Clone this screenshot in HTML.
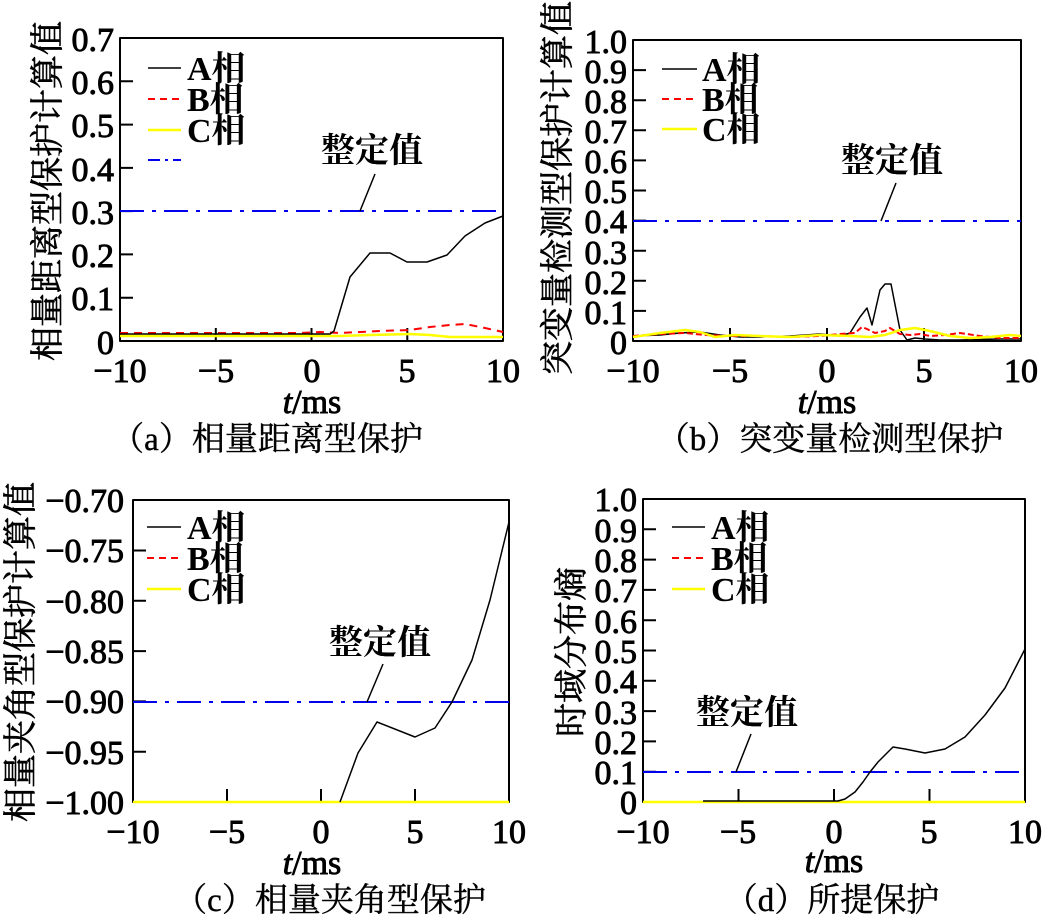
<!DOCTYPE html>
<html><head><meta charset="utf-8"><style>
html,body{margin:0;padding:0;background:#fff}
svg text{font-family:"Liberation Serif","Noto Serif CJK SC",serif;fill:#000}
.t{font-size:34px;stroke:#000;stroke-width:0.9px}
.c{font-family:"Liberation Serif","Noto Serif CJK SC",serif;font-size:33px;stroke:#000;stroke-width:0.4px}
.cj{font-family:"Liberation Serif","Noto Serif CJK SC",serif;font-size:34px;font-weight:bold}
.yl{font-family:"Liberation Serif","Noto Serif CJK SC",serif;font-size:34px;stroke:#000;stroke-width:0.6px}
</style></head><body>
<svg width="1043" height="919" viewBox="0 0 1043 919" xmlns="http://www.w3.org/2000/svg">
<g fill="none" stroke-linejoin="round">

<!-- ===== (a) ===== -->
<rect x="120" y="38" width="383" height="303" stroke="#000" stroke-width="2"/>
<path d="M120 297.7h13M120 254.4h13M120 211.1h13M120 167.9h13M120 124.6h13M120 81.3h13M215.8 341v-13M311.5 341v-13M407.3 341v-13" stroke="#000" stroke-width="2"/>
<line x1="120" y1="211" x2="503" y2="211" stroke="#0000ee" stroke-width="2" stroke-dasharray="24,8,4,8"/>
<polyline points="120,336 200,336 300,336 340,336 370,335 410,334 430,335 450,337 503,337" stroke="#ffff00" stroke-width="2.5"/>
<polyline points="120,333 200,333 300,333 320,332 340,333 380,331 410,330 430,327 450,325 465,324 485,328 503,332" stroke="#ff0000" stroke-width="2" stroke-dasharray="8,6"/>
<polyline points="120,334 330,334 334,331 350,277 370,253 390,253 407,262 427,262 447,255 465,236 485,223 503,216" stroke="#000" stroke-width="1.5"/>
<line x1="375" y1="174" x2="360" y2="211" stroke="#000" stroke-width="1.5"/>
<line x1="148" y1="68" x2="181" y2="68" stroke="#000" stroke-width="1.5"/>
<line x1="148" y1="99" x2="181" y2="99" stroke="#ff0000" stroke-width="2" stroke-dasharray="7,5"/>
<line x1="148" y1="130" x2="181" y2="130" stroke="#ffff00" stroke-width="2.5"/>
<line x1="148" y1="160" x2="181" y2="160" stroke="#0000ee" stroke-width="2" stroke-dasharray="12,5,3,5"/>

<!-- ===== (b) ===== -->
<rect x="633" y="40" width="388" height="301" stroke="#000" stroke-width="2"/>
<path d="M633 310.9h13M633 280.8h13M633 250.7h13M633 220.6h13M633 190.5h13M633 160.4h13M633 130.3h13M633 100.2h13M633 70.1h13M730 341v-13M827 341v-13M924 341v-13" stroke="#000" stroke-width="2"/>
<line x1="633" y1="221" x2="1021" y2="221" stroke="#0000ee" stroke-width="2" stroke-dasharray="24,8,4,8"/>
<polyline points="633,336 660,335 680,333 700,332 720,335 740,337 760,337 790,336 820,334 840,336 850,333 860,317 867,308 872,325 880,290 885,284 891,284 900,330 907,340 915,338 925,339 940,340 960,340 1000,339 1021,339" stroke="#000" stroke-width="1.5"/>
<polyline points="633,336 660,334 685,333 705,335 730,336 760,336 790,337 820,336 840,334 855,333 862,327 867,329 875,333 885,331 890,328 900,334 910,335 920,334 930,336 945,335 960,333 980,336 1000,338 1021,338" stroke="#ff0000" stroke-width="2" stroke-dasharray="6,3"/>
<polyline points="633,337 660,333 685,330 700,332 715,337 735,335 760,336 790,337 820,335 850,336 870,337 885,335 900,330 915,328 930,331 950,336 970,338 990,337 1010,335 1021,336" stroke="#ffff00" stroke-width="2.5"/>
<line x1="896" y1="183" x2="881" y2="221" stroke="#000" stroke-width="1.5"/>
<line x1="662" y1="69" x2="697" y2="69" stroke="#000" stroke-width="1.5"/>
<line x1="662" y1="99" x2="697" y2="99" stroke="#ff0000" stroke-width="2" stroke-dasharray="7,5"/>
<line x1="662" y1="129" x2="697" y2="129" stroke="#ffff00" stroke-width="2.5"/>

<!-- ===== (c) ===== -->
<rect x="133" y="500" width="376" height="302" stroke="#000" stroke-width="2"/>
<path d="M133 751.7h13M133 701.4h13M133 651.1h13M133 600.8h13M133 550.5h13M227 802v-13M321 802v-13M415 802v-13" stroke="#000" stroke-width="2"/>
<line x1="133" y1="702" x2="509" y2="702" stroke="#0000ee" stroke-width="2" stroke-dasharray="24,8,4,8"/>
<line x1="133" y1="802" x2="509" y2="802" stroke="#ffff00" stroke-width="2.5"/>
<polyline points="340,802 358,753 377,722 415,737 435,728 452,702 472,660 490,600 509,522" stroke="#000" stroke-width="1.5"/>
<line x1="383" y1="664" x2="367" y2="702" stroke="#000" stroke-width="1.5"/>
<line x1="147" y1="527" x2="181" y2="527" stroke="#000" stroke-width="1.5"/>
<line x1="147" y1="558" x2="181" y2="558" stroke="#ff0000" stroke-width="2" stroke-dasharray="7,5"/>
<line x1="147" y1="589" x2="181" y2="589" stroke="#ffff00" stroke-width="2.5"/>

<!-- ===== (d) ===== -->
<rect x="643" y="499" width="382" height="303" stroke="#000" stroke-width="2"/>
<path d="M643 771.7h13M643 741.4h13M643 711.1h13M643 680.8h13M643 650.5h13M643 620.2h13M643 589.9h13M643 559.6h13M643 529.3h13M738.5 802v-13M834 802v-13M929.5 802v-13" stroke="#000" stroke-width="2"/>
<line x1="643" y1="772" x2="1025" y2="772" stroke="#0000ee" stroke-width="2" stroke-dasharray="24,8,4,8"/>
<line x1="643" y1="802" x2="1025" y2="802" stroke="#ffff00" stroke-width="2.5"/>
<polyline points="703,801 838,801 845,799 855,792 863,782 870,772 878,762 885,755 893,747 905,749 925,753 945,749 965,737 985,715 1005,688 1025,649" stroke="#000" stroke-width="1.5"/>
<line x1="751" y1="734" x2="736" y2="772" stroke="#000" stroke-width="1.5"/>
<line x1="672" y1="527" x2="705" y2="527" stroke="#000" stroke-width="1.5"/>
<line x1="672" y1="558" x2="705" y2="558" stroke="#ff0000" stroke-width="2" stroke-dasharray="7,5"/>
<line x1="672" y1="589" x2="705" y2="589" stroke="#ffff00" stroke-width="2.5"/>
</g>

<!-- ===== text (a) ===== -->
<g class="t" text-anchor="end">
<text x="114" y="51">0.7</text><text x="114" y="94">0.6</text><text x="114" y="137">0.5</text><text x="114" y="181">0.4</text><text x="114" y="224">0.3</text><text x="114" y="267">0.2</text><text x="114" y="310">0.1</text><text x="114" y="354">0</text>
</g>
<g class="t" text-anchor="middle">
<text x="120" y="382">−10</text><text x="216" y="382">−5</text><text x="312" y="382">0</text><text x="407" y="382">5</text><text x="503" y="382">10</text>
<text x="312" y="413"><tspan font-style="italic">t</tspan>/ms</text>
</g>
<g class="cj">
<text x="187" y="80">A相</text><text x="187" y="111">B相</text><text x="187" y="142">C相</text>
<text x="321" y="162">整定值</text>
</g>
<text class="yl" transform="translate(59,191) rotate(-90)" text-anchor="middle">相量距离型保护计算值</text>
<text class="c" x="267" y="450" text-anchor="middle">（a）相量距离型保护</text>

<!-- ===== text (b) ===== -->
<g class="t" text-anchor="end">
<text x="627" y="53">1.0</text><text x="627" y="83">0.9</text><text x="627" y="113">0.8</text><text x="627" y="143">0.7</text><text x="627" y="173">0.6</text><text x="627" y="203">0.5</text><text x="627" y="233">0.4</text><text x="627" y="264">0.3</text><text x="627" y="294">0.2</text><text x="627" y="324">0.1</text><text x="627" y="354">0</text>
</g>
<g class="t" text-anchor="middle">
<text x="633" y="382">−10</text><text x="730" y="382">−5</text><text x="827" y="382">0</text><text x="924" y="382">5</text><text x="1021" y="382">10</text>
<text x="827" y="413"><tspan font-style="italic">t</tspan>/ms</text>
</g>
<g class="cj">
<text x="702" y="81">A相</text><text x="702" y="111">B相</text><text x="702" y="141">C相</text>
<text x="841" y="172">整定值</text>
</g>
<text class="yl" transform="translate(569,188) rotate(-90)" text-anchor="middle">突变量检测型保护计算值</text>
<text class="c" x="830" y="450" text-anchor="middle">（b）突变量检测型保护</text>

<!-- ===== text (c) ===== -->
<g class="t" text-anchor="end">
<text x="124" y="512">−0.70</text><text x="124" y="562">−0.75</text><text x="124" y="613">−0.80</text><text x="124" y="663">−0.85</text><text x="124" y="713">−0.90</text><text x="124" y="764">−0.95</text><text x="124" y="814">−1.00</text>
</g>
<g class="t" text-anchor="middle">
<text x="133" y="843">−10</text><text x="227" y="843">−5</text><text x="321" y="843">0</text><text x="415" y="843">5</text><text x="509" y="843">10</text>
<text x="312" y="874"><tspan font-style="italic">t</tspan>/ms</text>
</g>
<g class="cj">
<text x="187" y="539">A相</text><text x="187" y="570">B相</text><text x="187" y="601">C相</text>
<text x="329" y="654">整定值</text>
</g>
<text class="yl" transform="translate(32,652) rotate(-90)" text-anchor="middle">相量夹角型保护计算值</text>
<text class="c" x="330" y="911" text-anchor="middle">（c）相量夹角型保护</text>

<!-- ===== text (d) ===== -->
<g class="t" text-anchor="end">
<text x="637" y="511">1.0</text><text x="637" y="542">0.9</text><text x="637" y="572">0.8</text><text x="637" y="602">0.7</text><text x="637" y="633">0.6</text><text x="637" y="663">0.5</text><text x="637" y="693">0.4</text><text x="637" y="724">0.3</text><text x="637" y="754">0.2</text><text x="637" y="784">0.1</text><text x="637" y="814">0</text>
</g>
<g class="t" text-anchor="middle">
<text x="643" y="843">−10</text><text x="738" y="843">−5</text><text x="834" y="843">0</text><text x="929" y="843">5</text><text x="1025" y="843">10</text>
<text x="834" y="872"><tspan font-style="italic">t</tspan>/ms</text>
</g>
<g class="cj">
<text x="711" y="539">A相</text><text x="711" y="570">B相</text><text x="711" y="601">C相</text>
<text x="696" y="724">整定值</text>
</g>
<text class="yl" transform="translate(583,652) rotate(-90)" text-anchor="middle">时域分布熵</text>
<text class="c" x="832" y="911" text-anchor="middle">（d）所提保护</text>
</svg>
</body></html>
